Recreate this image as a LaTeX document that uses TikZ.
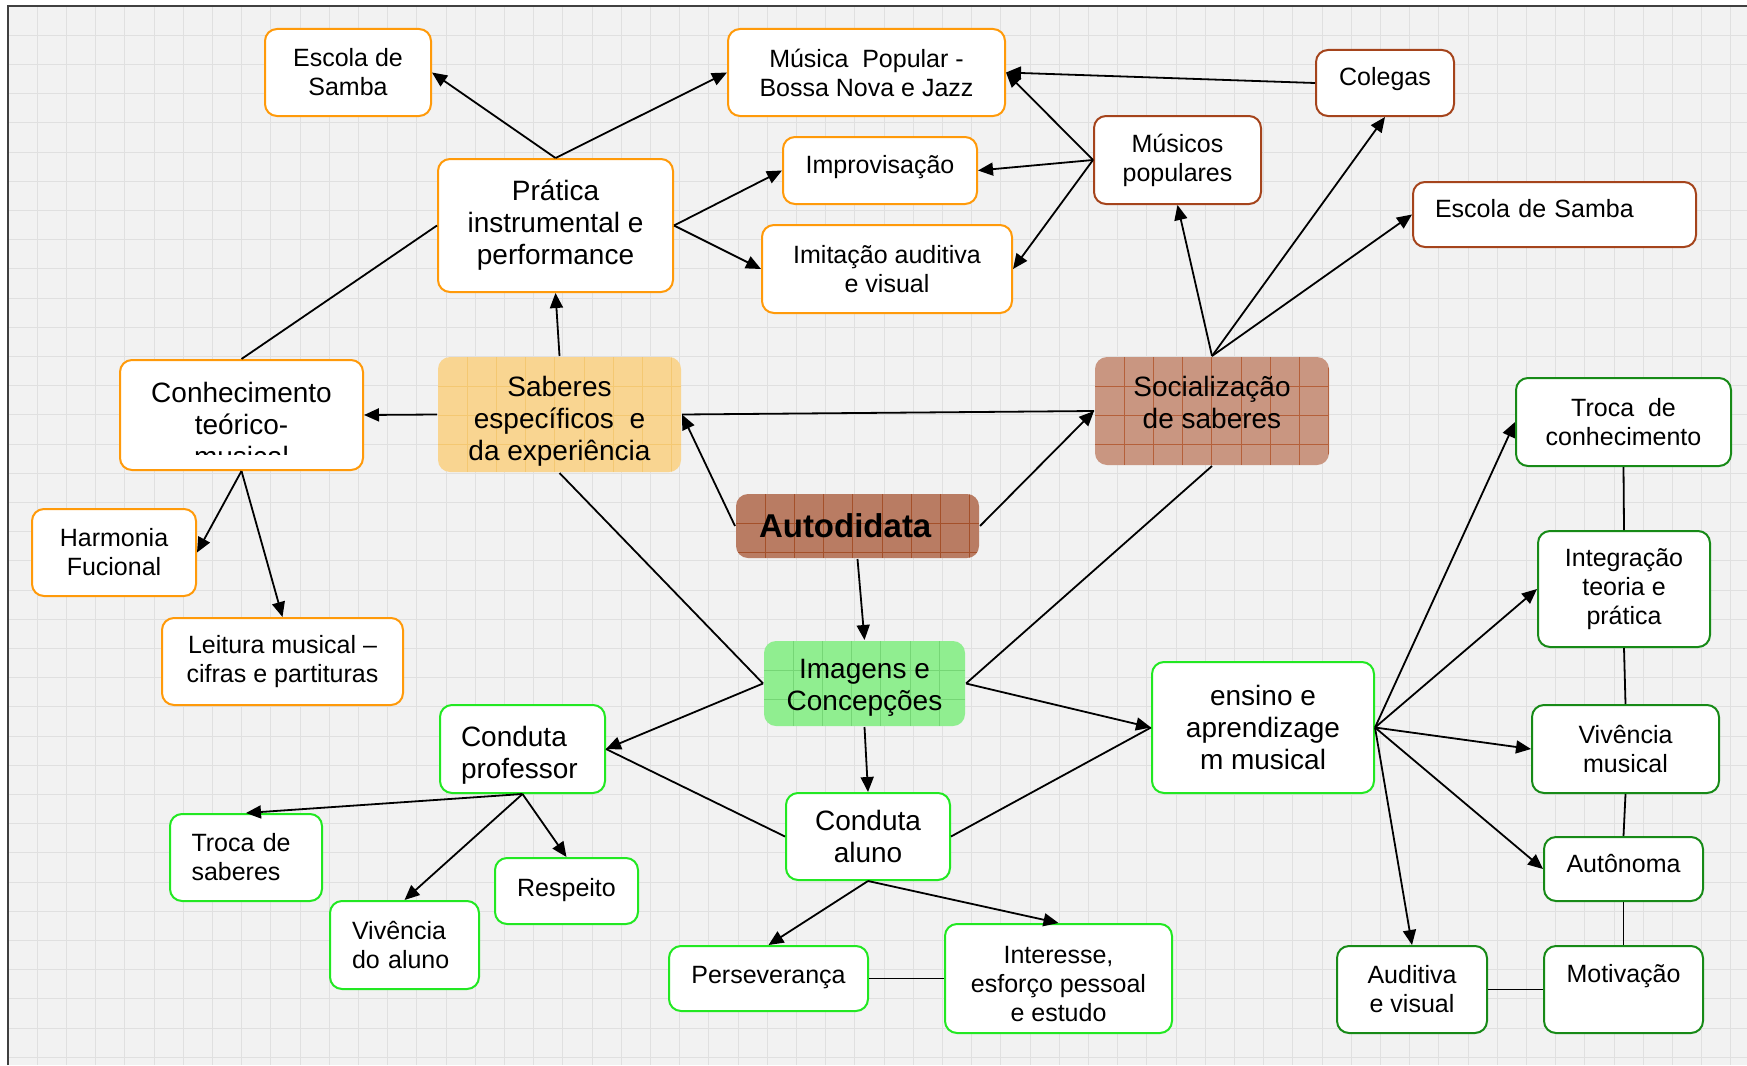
\documentclass[tikz,border=0pt]{standalone}
\usepackage{fontspec}
\setmainfont{Liberation Sans}
\usepackage{tikz}
\usetikzlibrary{arrows.meta}
\usepackage{xcolor}

\definecolor{mapbg}{HTML}{F2F2F2}
\definecolor{mapgrid}{HTML}{E0E0E0}
\definecolor{orangeedge}{HTML}{FF9A0A}
\definecolor{brownedge}{HTML}{A5441C}
\definecolor{limeedge}{HTML}{22E822}
\definecolor{darkgreenedge}{HTML}{178A17}
\definecolor{saberesfill}{HTML}{F9D591}
\definecolor{saberesgrid}{HTML}{F4C872}
\definecolor{socfill}{HTML}{C99681}
\definecolor{socgrid}{HTML}{B5603A}
\definecolor{autofill}{HTML}{B97C63}
\definecolor{autogrid}{HTML}{A4502A}
\definecolor{imgfill}{HTML}{90EE90}
\definecolor{imggrid}{HTML}{76D676}

\begin{document}
\begin{tikzpicture}[x=1pt, y=-1pt,
  every node/.style={font=\fontsize{25}{29}\selectfont, align=center, rounded corners=12pt, line width=2pt, inner sep=0pt},
  big/.style={font=\fontsize{28}{32}\selectfont},
  sz/.style 2 args={minimum width=#1pt, minimum height=#2pt},
  obox/.style={draw=orangeedge, fill=white},
  bbox/.style={draw=brownedge, fill=white},
  lbox/.style={draw=limeedge, fill=white},
  gbox/.style={draw=darkgreenedge, fill=white},
  tiled/.style 2 args={fill=#1, path picture={
    \foreach \k in {1,...,8} {
      \draw[#2, line width=1pt] ([xshift=\k*29.2pt]path picture bounding box.north west) -- ([xshift=\k*29.2pt]path picture bounding box.south west);
      \draw[#2, line width=1pt] ([yshift=-\k*29.2pt]path picture bounding box.north west) -- ([yshift=-\k*29.2pt]path picture bounding box.north east);
    }}},
  lift/.style={text depth=#1pt},
  lft/.style 2 args={align=left, inner xsep=#1pt, text width=#2pt},
  arr/.style={-{Triangle[length=15pt, width=13pt]}, line width=1.8pt},
  ln/.style={line width=1.8pt}]
  \useasboundingbox (0,0) rectangle (1747,1065);
  \fill[white] (0,0) rectangle (1747,1065);
  \fill[mapbg] (8,6) rectangle (1747,1065);
  \draw[mapgrid, line width=1pt, shift={(8,6)}] (0,1059) grid[step=29.2pt] (1739,0);
  \draw[black!75, line width=2pt] (8,1065) -- (8,6) -- (1747,6);

  \node[obox, sz={166}{87}] (escL) at (348,72.5) {Escola de\\Samba};
  \node[obox, sz={277}{87}] (mus) at (866.5,72.5) {Música\ \ Popular -\\Bossa Nova e Jazz};
  \node[bbox, sz={138}{66}, lift=13] (coleg) at (1385,83) {Colegas};
  \node[obox, big, sz={235}{133}] (prat) at (555.5,225.5) {Prática\\instrumental e\\performance};
  \node[obox, sz={194}{67}, lift=12] (impr) at (880,170.5) {Improvisação};
  \node[bbox, sz={167}{88}] (mpop) at (1177.5,160) {Músicos\\populares};
  \node[bbox, sz={283}{65}, lift=13, lft={22}{239}] (escR) at (1554.5,214.5) {Escola de Samba};
  \node[obox, sz={250}{88}] (imit) at (887,269) {Imitação auditiva\\e visual};
  \node[obox, big, sz={243}{110}] (conh) at (241.5,415) {\rule{0pt}{38.5pt}Conhecimento\\teórico-\\musical};
  \fill[white] (138,455) rectangle (345,467);
  \node[tiled={saberesfill}{saberesgrid}, big, sz={243}{115}] (sab) at (559.5,414.5) {\rule{0pt}{34.5pt}Saberes\\específicos\ \ e\\da experiência};
  \node[tiled={socfill}{socgrid}, big, sz={234}{108}] (soc) at (1212,411) {Socialização\\de saberes\rule[-18pt]{0pt}{1pt}};
  \node[gbox, sz={215}{88}] (tcon) at (1623.5,422) {Troca\ \ de\\conhecimento};
  \node[tiled={autofill}{autogrid}, font=\fontsize{33}{36}\selectfont\bfseries, sz={243}{64}, lft={23}{197}] (auto) at (857.5,526) {Autodidata};
  \node[obox, sz={164}{87}] (harm) at (114,552.5) {Harmonia\\Fucional};
  \node[gbox, sz={172}{116}] (integ) at (1624,589) {Integração\\teoria e\\prática};
  \node[obox, sz={241}{87}] (leit) at (282.5,661.5) {Leitura musical –\\cifras e partituras};
  \node[tiled={imgfill}{imggrid}, big, sz={201}{85}] (img) at (864.5,683.5) {\rule{0pt}{27.5pt}Imagens e\\Concepções};
  \node[lbox, big, sz={222}{131}] (ens) at (1263,727.5) {ensino e\\aprendizage\\m musical};
  \node[lbox, big, sz={165}{88}, lft={21}{123}] (cprof) at (522.5,749) {\rule{0pt}{32.5pt}Conduta\\professor};
  \node[gbox, sz={187}{88}] (vmus) at (1625.5,749) {Vivência\\musical};
  \node[lbox, big, sz={164}{87}] (calu) at (868,836.5) {Conduta\\aluno};
  \node[lbox, sz={152}{87}, lft={21.5}{109}] (tsab) at (246,857.5) {Troca de\\saberes};
  \node[lbox, sz={143}{66}, lift=7] (resp) at (566.5,891) {Respeito};
  \node[gbox, sz={159}{64}, lift=11] (auton) at (1623.5,869) {Autônoma};
  \node[lbox, sz={149}{88}, lft={22}{105}] (viva) at (404.5,945) {Vivência\\do aluno};
  \node[lbox, sz={199}{65}, lift=8] (pers) at (768.5,978.5) {Perseverança};
  \node[lbox, sz={227}{109}] (inter) at (1058.5,978.5) {\rule{0pt}{29.2pt}Interesse,\\esforço pessoal\\e estudo};
  \node[gbox, sz={150}{87}] (aud) at (1412,989.5) {Auditiva\\e visual};
  \node[gbox, sz={159}{87}, lift=33] (motiv) at (1623.5,989.5) {Motivação};

  \draw[arr] (prat.north) -- (escL.east);
  \draw[arr] (prat.north) -- (mus.west);
  \draw[arr] (prat.east) -- (impr.west);
  \draw[arr] (prat.east) -- (imit.west);
  \draw[arr] (coleg.west) -- (mus.east);
  \draw[arr] (mpop.west) -- (mus.east);
  \draw[arr] (mpop.west) -- (impr.east);
  \draw[arr] (mpop.west) -- (imit.east);
  \draw[arr] (soc.north) -- (mpop.south);
  \draw[arr] (soc.north) -- (coleg.south);
  \draw[arr] (soc.north) -- (escR.west);
  \draw[arr] (sab.north) -- (prat.south);
  \draw[arr] (sab.west) -- (conh.east);
  \draw[ln] (conh.north) -- (prat.west);
  \draw[ln] (soc.west) -- (sab.east);
  \draw[arr] (auto.west) -- (sab.east);
  \draw[arr] (auto.east) -- (soc.west);
  \draw[arr] (auto.south) -- (img.north);
  \draw[ln] (sab.south) -- (img.west);
  \draw[arr] (img.west) -- (cprof.east);
  \draw[ln] (soc.south) -- (img.east);
  \draw[arr] (img.east) -- (ens.west);
  \draw[arr] (img.south) -- (calu.north);
  \draw[ln] (calu.west) -- (cprof.east);
  \draw[ln] (calu.east) -- (ens.west);
  \draw[arr] (calu.south) -- (pers.north);
  \draw[arr] (calu.south) -- (inter.north);
  \draw[ln] (pers.east) -- (inter.west);
  \draw[arr] (conh.south) -- (harm.east);
  \draw[arr] (conh.south) -- (leit.north);
  \draw[arr] (cprof.south) -- (tsab.north);
  \draw[arr] (cprof.south) -- (viva.north);
  \draw[arr] (cprof.south) -- (resp.north);
  \draw[arr] (ens.east) -- (tcon.west);
  \draw[arr] (ens.east) -- (integ.west);
  \draw[arr] (ens.east) -- (vmus.west);
  \draw[arr] (ens.east) -- (auton.west);
  \draw[arr] (ens.east) -- (aud.north);
  \draw[ln] (tcon.south) -- (integ.north);
  \draw[ln] (integ.south) -- (vmus.north);
  \draw[ln] (vmus.south) -- (auton.north);
  \draw[ln] (auton.south) -- (motiv.north);
  \draw[ln] (aud.east) -- (motiv.west);
\end{tikzpicture}
\end{document}
